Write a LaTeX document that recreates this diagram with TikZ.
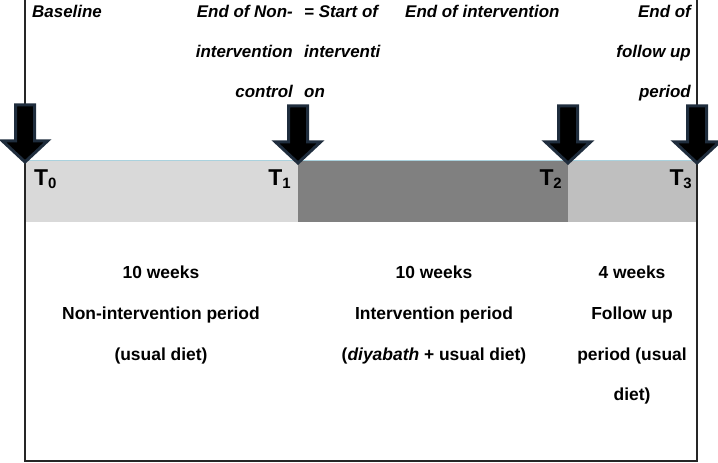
\documentclass[tikz,border=0pt]{standalone}
\usepackage{fontspec}
\setmainfont{Liberation Sans}
\definecolor{navy}{RGB}{31,45,61}
\definecolor{barA}{RGB}{217,217,217}
\definecolor{barB}{RGB}{128,128,128}
\definecolor{barC}{RGB}{191,191,191}
\definecolor{edgeblue}{RGB}{170,210,222}
\tikzset{
  toplab/.style={font=\fontsize{17}{40}\selectfont\bfseries\itshape, inner sep=0pt},
  botlab/.style={font=\fontsize{17.5}{40.5}\selectfont\bfseries, inner sep=0pt, anchor=base},
  tlab/.style={font=\fontsize{23}{23}\selectfont\bfseries, inner sep=0pt},
  blockarr/.style={fill=black, draw=navy, line width=3bp, line join=miter},
  frameline/.style={draw=black!85, line width=1.2bp}
}
\newcommand\tsub[2]{#1\raisebox{-3bp}{\fontsize{15}{15}\selectfont #2}}
\newcommand\blockarrowat[1]{%
  \draw[blockarr, shift={(#1)}] (-9.5,-57) -- (9.5,-57) -- (9.5,-21) -- (22.5,-21) -- (0,0) -- (-22.5,-21) -- (-9.5,-21) -- cycle;}
\begin{document}
\begin{tikzpicture}[x=1bp,y=-1bp]
\useasboundingbox (0,0) rectangle (718,463);
% bars
\fill[barA] (25,161) rectangle (298,222);
\fill[barB] (298,161) rectangle (568,222);
\fill[barC] (568,161) rectangle (697,222);
\draw[edgeblue, line width=1bp] (25,161) -- (697,161);
% frame
\coordinate (fTL) at (25,0);
\coordinate (fBL) at (25,461);
\coordinate (fBR) at (697,461);
\coordinate (fTR) at (697,0);
\draw[frameline] (fTL) -- (fBL) -- (fBR) -- (fTR);
% arrow tips
\coordinate (t0) at (25,162);
\coordinate (t1) at (298,163);
\coordinate (t2) at (568,163);
\coordinate (t3) at (697,163);
\blockarrowat{t0}
\blockarrowat{t1}
\blockarrowat{t2}
\blockarrowat{t3}
% T labels
\node[tlab, anchor=base west] (T0) at (34,186) {\tsub{T}{0}};
\node[tlab, anchor=base east] (T1) at (291,186) {\tsub{T}{1}};
\node[tlab, anchor=base east] (T2) at (562,186) {\tsub{T}{2}};
\node[tlab, anchor=base east] (T3) at (692,186) {\tsub{T}{3}};
% top labels
\node[toplab, anchor=base west] (base) at (32,18) {Baseline};
\node[toplab, anchor=base east] (endnonA) at (293,18) {End of Non-};
\node[toplab, anchor=base east] (endnonB) at (293,58) {intervention};
\node[toplab, anchor=base east] (endnonC) at (293,98) {control};
\node[toplab, anchor=base west] (startA) at (304,18) {= Start of};
\node[toplab, anchor=base west] (startB) at (304,58) {interventi};
\node[toplab, anchor=base west] (startC) at (304,98) {on};
\node[toplab, anchor=base west] (endint) at (405,18) {End of intervention};
\node[toplab, anchor=base east] (endfuA) at (691,18) {End of};
\node[toplab, anchor=base east] (endfuB) at (691,58) {follow up};
\node[toplab, anchor=base east] (endfuC) at (691,98) {period};
% bottom labels
\node[botlab] (p1a) at (161,279) {10 weeks};
\node[botlab] (p1b) at (161,319.5) {Non-intervention period};
\node[botlab] (p1c) at (161,360) {(usual diet)};
\node[botlab] (p2a) at (434,279) {10 weeks};
\node[botlab] (p2b) at (434,319.5) {Intervention period};
\node[botlab] (p2c) at (434,360) {(\textit{diyabath} + usual diet)};
\node[botlab] (p3a) at (632,279) {4 weeks};
\node[botlab] (p3b) at (632,319.5) {Follow up};
\node[botlab] (p3c) at (632,360) {period (usual};
\node[botlab] (p3d) at (632,400.5) {diet)};
\end{tikzpicture}
\end{document}
